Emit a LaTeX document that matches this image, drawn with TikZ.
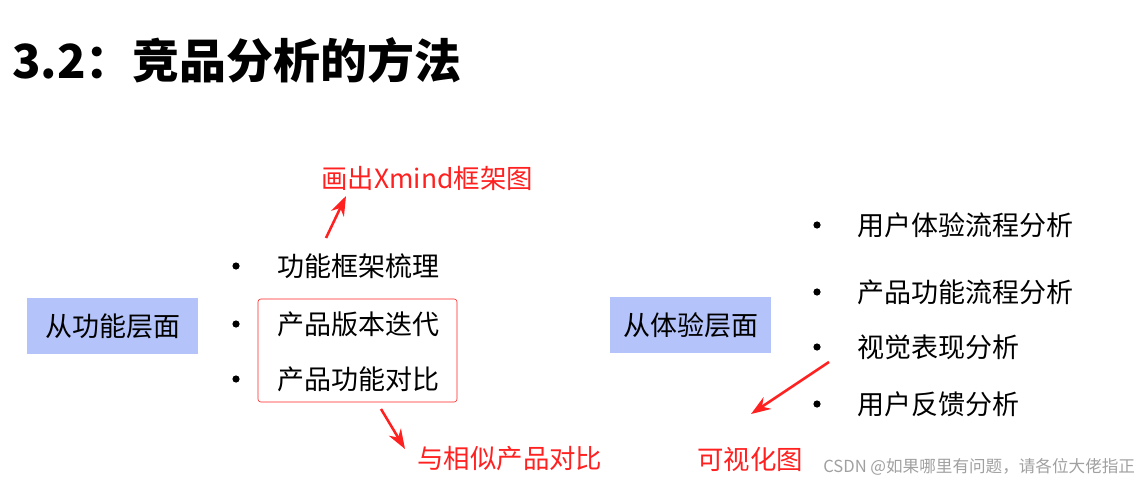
\documentclass[tikz,border=0pt]{standalone}
\usepackage{fontspec}
\setmainfont{Noto Sans CJK SC}
\usetikzlibrary{arrows.meta,positioning}
\definecolor{clayer}{HTML}{B4C4FA}
\definecolor{cnote}{HTML}{FF2020}
\definecolor{cmark}{HTML}{A0A0A0}
\tikzset{
  every picture/.style={x=0.025cm, y=-0.025cm},
  body/.style={font=\fontsize{19.2pt}{22pt}\selectfont},
  layer/.style={body, fill=clayer, minimum height=1.4cm, inner sep=0pt},
  item/.style={body, anchor=west, inner sep=0pt},
  dot/.style={circle, fill, inner sep=0pt, minimum size=0.18cm},
  note/.style={cnote, anchor=west, inner sep=0pt, font=\fontsize{18.8pt}{22pt}\selectfont},
  noteto/.style={cnote, line width=1.8pt, -{Stealth[length=14pt,width=10pt]}},
}
\def\lx{236}
\def\rx{817}

\begin{document}
\begin{tikzpicture}
  \useasboundingbox (0,0) rectangle (1148,485);
  \node[anchor=west, inner sep=0pt, font=\fontsize{33.4pt}{38pt}\selectfont\bfseries] (title) at (12,60) {3.2：竞品分析的方法};

  % functional side
  \node[layer, minimum width=4.275cm] (func) at (112.5,326) {从功能层面};
  \foreach \y/\name/\txt in {266/fa/功能框架梳理, 324/fb/产品版本迭代, 379/fc/产品功能对比} {
    \node[dot] (d\name) at (\lx,\y) {};
    \node[item] (\name) at (277,\y) {\txt};
  }
  \draw[cnote, rounded corners=2pt] (258,299) rectangle (457,402);
  \node[note] (xmind) at (321,178) {画出Xmind框架图};
  \node[note] (similar) at (417,459) {与相似产品对比};
  \coordinate (xa) at (326,238);
  \coordinate (xb) at (346,196);
  \coordinate (sa) at (381,409);
  \coordinate (sb) at (405,449);
  \draw[noteto] (xa) -- (xb);
  \draw[noteto] (sa) -- (sb);

  % experience side
  \node[layer, minimum width=4.025cm] (exp) at (690.5,325) {从体验层面};
  \foreach \y/\name/\txt in {225/ea/用户体验流程分析, 292/eb/产品功能流程分析, 347/ec/视觉表现分析, 404/ed/用户反馈分析} {
    \node[dot] (d\name) at (\rx,\y) {};
    \node[item] (\name) at (857,\y) {\txt};
  }
  \node[note] (visual) at (697,459) {可视化图};
  \coordinate (va) at (829,362);
  \coordinate (vb) at (751,414);
  \draw[noteto] (va) -- (vb);

  \node[anchor=west, inner sep=0pt, cmark, font=\fontsize{11.8pt}{13pt}\selectfont] (mark) at (823,467) {CSDN @如果哪里有问题，请各位大佬指正};
\end{tikzpicture}
\end{document}
